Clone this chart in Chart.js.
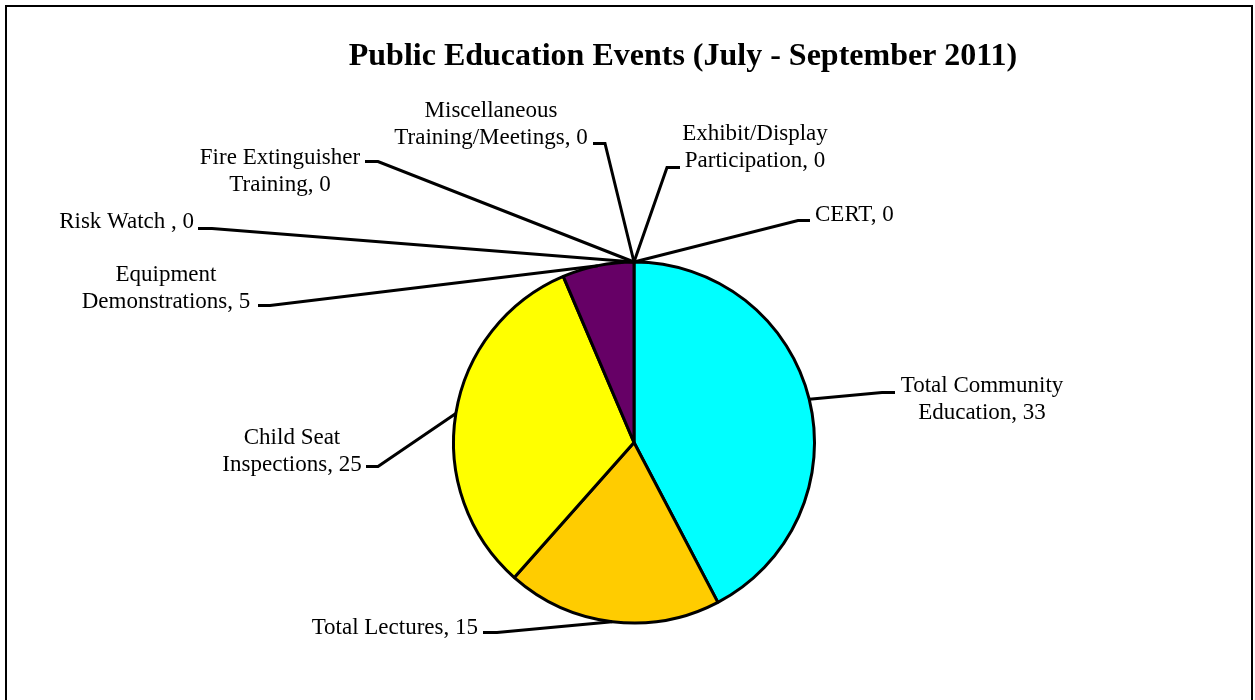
<!DOCTYPE html>
<html lang="en">
<head>
  <meta charset="UTF-8" />
  <title>Public Education Events</title>
  <script src="https://cdn.jsdelivr.net/npm/chart.js"></script>
  <style>
    * {
      box-sizing: border-box;
    }

    body {
      margin: 0;
      background: #ffffff;
      overflow: hidden;
    }

    .chart-container {
      position: relative;
      width: 1255px;
      height: 700px;
    }

    .frame {
      position: absolute;
      left: 5px;
      top: 5px;
      width: 1248px;
      height: 720px;
      border: 2px solid #000000;
      pointer-events: none;
    }
  </style>
</head>
<body>

  <div class="chart-container">
    <canvas id="eventsChart"></canvas>
    <div class="frame"></div>
  </div>

  <script>
    const chartTitle = 'Public Education Events (July - September 2011)';

    // categories, clockwise from the top of the pie
    const categories = [
      ['Total Community', 'Education, 33'],
      ['Total Lectures, 15'],
      ['Child Seat', 'Inspections, 25'],
      ['Equipment', 'Demonstrations, 5'],
      ['Risk Watch , 0'],
      ['Fire Extinguisher', 'Training, 0'],
      ['Miscellaneous', 'Training/Meetings, 0'],
      ['Exhibit/Display', 'Participation, 0'],
      ['CERT, 0']
    ];
    const eventCounts = [33, 15, 25, 5, 0, 0, 0, 0, 0];
    const sliceColors = ['#00ffff', '#ffcc00', '#ffff00', '#660066', '#9999ff', '#993366', '#ffffcc', '#ccffff', '#ff8080'];

    // label placement, relative to the pie centre: text point, align, knee and end of the leader line
    const labelLayout = [
      { tx: 348, ty: -57, align: 'center', knee: [248, -50], end: [261, -50] },
      { tx: -156, ty: 185, align: 'right', knee: [-137, 190], end: [-151, 190] },
      { tx: -342, ty: -5, align: 'center', knee: [-256, 24], end: [-268, 24] },
      { tx: -468, ty: -168, align: 'center', knee: [-364, -137], end: [-376, -137] },
      { tx: -440, ty: -221, align: 'right', knee: [-422, -214], end: [-436, -214] },
      { tx: -354, ty: -285, align: 'center', knee: [-256, -281], end: [-269, -281] },
      { tx: -143, ty: -332, align: 'center', knee: [-29, -299], end: [-41, -299] },
      { tx: 121, ty: -309, align: 'center', knee: [33, -275], end: [46, -275] },
      { tx: 181, ty: -228, align: 'left', knee: [164, -222], end: [176, -222] }
    ];

    const serif = '"Liberation Serif", "Times New Roman", serif';

    const labelPlugin = {
      id: 'leaderLabels',
      afterDatasetsDraw(chart) {
        const ctx = chart.ctx;
        const arcs = chart.getDatasetMeta(0).data;
        ctx.save();

        // title
        ctx.fillStyle = '#000000';
        ctx.font = 'bold 32px ' + serif;
        ctx.textAlign = 'center';
        ctx.textBaseline = 'middle';
        ctx.fillText(chartTitle, 683, 57);

        arcs.forEach((arc, i) => {
          const p = arc.getProps(['x', 'y', 'startAngle', 'endAngle', 'outerRadius'], true);
          const mid = (p.startAngle + p.endAngle) / 2;
          const ax = p.x + Math.cos(mid) * p.outerRadius;
          const ay = p.y + Math.sin(mid) * p.outerRadius;
          const l = labelLayout[i];

          ctx.strokeStyle = '#000000';
          ctx.lineWidth = 3;
          ctx.lineJoin = 'miter';
          ctx.beginPath();
          ctx.moveTo(ax, ay);
          ctx.lineTo(p.x + l.knee[0], p.y + l.knee[1]);
          ctx.lineTo(p.x + l.end[0], p.y + l.end[1]);
          ctx.stroke();

          ctx.font = '23px ' + serif;
          ctx.textAlign = l.align;
          ctx.textBaseline = 'middle';
          categories[i].forEach((line, k) => {
            ctx.fillText(line, p.x + l.tx, p.y + l.ty + k * 27);
          });
        });
        ctx.restore();
      }
    };

    const ctx = document.getElementById('eventsChart').getContext('2d');

    const eventsChart = new Chart(ctx, {
      type: 'pie',
      data: {
        labels: categories.map(c => c.join(' ')),
        datasets: [{
          data: eventCounts,
          backgroundColor: sliceColors,
          borderColor: '#000000',
          borderWidth: 3
        }]
      },
      options: {
        responsive: true,
        maintainAspectRatio: false,
        animation: false,
        layout: {
          padding: { left: 452, right: 439, top: 260, bottom: 75 }
        },
        plugins: {
          legend: { display: false },
          tooltip: { enabled: false }
        }
      },
      plugins: [labelPlugin]
    });
  </script>
</body>
</html>
